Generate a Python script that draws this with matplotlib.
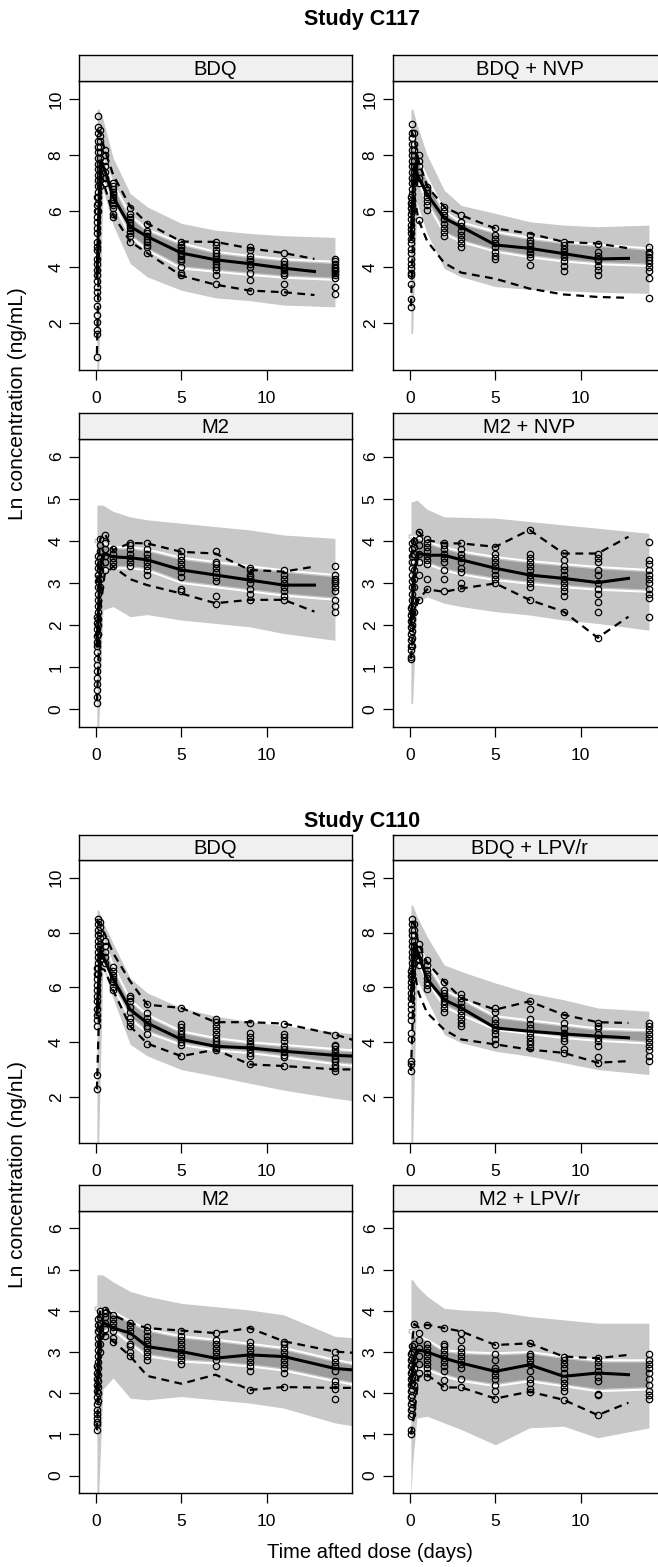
import numpy as np
import matplotlib
matplotlib.use('Agg')
import matplotlib.pyplot as plt
import matplotlib.patheffects as pe

plt.rcParams['font.family'] = ['Liberation Sans', 'DejaVu Sans']

# ---- shared time grids ----
band_t = [0.05, 0.15, 0.4, 1, 2, 3, 5, 7, 9, 11, 14]
band_t_long = [0.05, 0.15, 0.4, 1, 2, 3, 5, 7, 9, 11, 14, 15.2]
mid_t = [0.05, 0.25, 0.5, 1, 2, 3, 5, 7, 9, 11, 12.8]
mid_t_long = [0.05, 0.25, 0.5, 1, 2, 3, 5, 7, 9, 11, 14, 15.5]
obs_t = [0.05, 0.12, 0.25, 0.5, 1, 2, 3, 5, 7, 9, 11, 14]

# ---- Study C117, BDQ ----
c117_bdq_hi = [9.6, 9.67, 9.3, 7.9, 6.63, 6.15, 5.56, 5.32, 5.2, 5.12, 5.06]
c117_bdq_lo = [0.3, 0.3, 6.8, 5.5, 4.13, 3.65, 3.17, 2.9, 2.8, 2.64, 2.58]
c117_bdq_whi = [8.3, 8.3, 7.9, 7.0, 5.85, 5.35, 4.85, 4.55, 4.4, 4.28, 4.19]
c117_bdq_wlo = [7.0, 7.0, 7.1, 6.3, 5.1, 4.6, 3.95, 3.83, 3.72, 3.62, 3.54]
c117_bdq_med = [3.6, 7.8, 7.5, 6.5, 5.45, 5.09, 4.5, 4.26, 4.12, 3.96, 3.84]
c117_bdq_p95 = [8.9, 8.8, 8.2, 7.3, 6.16, 5.56, 4.91, 4.9, 4.67, 4.5, 4.29]
c117_bdq_p5 = [0.9, 6.9, 6.9, 5.86, 4.91, 4.5, 3.69, 3.37, 3.16, 3.1, 3.0]
c117_bdq_obs = [
    [0.8, 1.6, 1.75, 2.05, 2.3, 2.6, 2.9, 3.1, 3.3, 3.5, 3.7, 3.9, 4.1, 4.3, 4.6, 4.7,
     4.9, 5.2, 5.4, 5.6, 5.8, 6.0, 6.2, 6.5],
    [6.0, 6.3, 6.5, 6.7, 6.9, 7.1, 7.3, 7.5, 7.7, 7.9, 8.1, 8.3, 8.5, 8.8, 9.0, 9.4],
    [6.9, 7.1, 7.3, 7.5, 7.7, 7.9, 8.1, 8.3, 8.5, 8.7, 8.9],
    [7.0, 7.2, 7.4, 7.6, 7.8, 8.0, 8.2],
    [5.8, 5.9, 6.1, 6.2, 6.3, 6.4, 6.5, 6.6, 6.7, 6.8, 6.9, 7.0],
    [4.9, 5.1, 5.2, 5.3, 5.4, 5.5, 5.6, 5.7, 5.8, 5.9, 6.1],
    [4.5, 4.7, 4.8, 4.9, 5.0, 5.1, 5.2, 5.3, 5.55],
    [3.7, 3.8, 4.0, 4.2, 4.3, 4.4, 4.45, 4.5, 4.6, 4.7, 4.8, 4.9],
    [3.4, 3.7, 3.9, 4.0, 4.1, 4.2, 4.3, 4.4, 4.5, 4.6, 4.8, 4.9],
    [3.15, 3.55, 3.8, 4.0, 4.1, 4.2, 4.3, 4.4, 4.6, 4.7],
    [3.1, 3.4, 3.7, 3.8, 3.9, 3.95, 4.0, 4.1, 4.2, 4.5],
    [3.05, 3.3, 3.6, 3.7, 3.8, 3.85, 3.9, 3.95, 4.0, 4.1, 4.2, 4.3],
]

# ---- Study C117, BDQ + NVP ----
c117_nvp_hi = [9.6, 9.67, 9.1, 8.0, 6.75, 6.2, 5.92, 5.62, 5.5, 5.44, 5.5]
c117_nvp_lo = [1.63, 1.63, 6.3, 5.2, 3.95, 3.65, 3.3, 3.2, 3.15, 3.1, 3.06]
c117_nvp_whi = [8.6, 8.6, 8.0, 7.2, 6.0, 5.6, 5.26, 5.05, 4.9, 4.8, 4.67]
c117_nvp_wlo = [7.2, 7.2, 7.2, 6.3, 5.2, 4.9, 4.55, 4.35, 4.2, 4.1, 4.04]
c117_nvp_med = [5.0, 7.6, 7.2, 6.6, 5.75, 5.44, 4.79, 4.67, 4.48, 4.29, 4.31]
c117_nvp_p95 = [8.9, 8.6, 7.8, 6.9, 6.15, 5.85, 5.38, 5.2, 4.9, 4.84, 4.67]
c117_nvp_p5 = [2.6, 6.5, 5.68, 4.93, 4.15, 3.8, 3.58, 3.23, 3.02, 2.93, 2.9]
c117_nvp_obs = [
    [2.57, 2.87, 3.4, 3.7, 3.8, 3.95, 4.1, 4.3, 4.5, 4.65, 4.85, 5.0, 5.2, 5.35, 5.5,
     5.7, 5.9, 6.1, 6.3, 6.5],
    [6.0, 6.2, 6.4, 6.6, 6.8, 7.0, 7.2, 7.4, 7.6, 7.8, 8.0, 8.2, 8.4, 8.6, 8.8, 9.1],
    [7.0, 7.2, 7.4, 7.6, 7.8, 8.0, 8.2, 8.4, 8.8],
    [5.68, 7.0, 7.2, 7.4, 7.6, 7.8, 8.0],
    [6.05, 6.2, 6.35, 6.5, 6.65, 6.75, 6.87],
    [5.1, 5.25, 5.4, 5.55, 5.7, 5.85, 6.0, 6.15],
    [4.7, 4.85, 5.0, 5.15, 5.3, 5.45, 5.6, 5.85],
    [4.3, 4.4, 4.55, 4.7, 4.85, 5.0, 5.15, 5.4],
    [4.07, 4.35, 4.45, 4.55, 4.65, 4.75, 4.85, 4.95, 5.15],
    [3.85, 4.05, 4.2, 4.35, 4.45, 4.55, 4.65, 4.8, 4.9],
    [3.7, 3.9, 4.05, 4.2, 4.3, 4.4, 4.55, 4.84],
    [2.9, 3.6, 3.85, 4.0, 4.15, 4.25, 4.35, 4.45, 4.55, 4.7],
]

# ---- Study C117, M2 ----
c117_m2_hi = [4.85, 4.85, 4.85, 4.7, 4.57, 4.5, 4.42, 4.34, 4.26, 4.14, 4.06]
c117_m2_lo = [-0.5, -0.5, 2.36, 2.44, 2.2, 2.25, 2.12, 2.04, 1.96, 1.8, 1.64]
c117_m2_whi = [4.0, 4.0, 3.95, 3.85, 3.85, 3.8, 3.6, 3.5, 3.4, 3.3, 3.19]
c117_m2_wlo = [3.2, 3.2, 3.3, 3.35, 3.35, 3.3, 3.0, 2.9, 2.8, 2.7, 2.6]
c117_m2_med = [1.5, 3.4, 3.7, 3.62, 3.6, 3.55, 3.31, 3.19, 3.07, 2.95, 2.95]
c117_m2_p95 = [3.0, 4.05, 4.18, 3.78, 3.95, 3.94, 3.74, 3.7, 3.31, 3.27, 3.39]
c117_m2_p5 = [0.2, 2.4, 3.2, 3.39, 3.09, 2.95, 2.75, 2.52, 2.6, 2.6, 2.32]
c117_m2_obs = [
    [0.15, 0.3, 0.45, 0.6, 0.75, 0.9, 1.05, 1.2, 1.35, 1.5, 1.6, 1.75, 1.9, 2.05, 2.2],
    [1.8, 2.0, 2.15, 2.3, 2.45, 2.6, 2.75, 2.9, 3.05, 3.2, 3.35, 3.5, 3.65],
    [2.9, 3.1, 3.3, 3.45, 3.6, 3.75, 3.9, 4.05],
    [3.3, 3.5, 3.65, 3.8, 3.95, 4.15],
    [3.4, 3.5, 3.6, 3.7, 3.8],
    [3.4, 3.5, 3.6, 3.7, 3.8, 3.9, 3.95],
    [3.2, 3.3, 3.4, 3.5, 3.6, 3.7, 3.8, 3.95],
    [2.8, 2.85, 3.15, 3.25, 3.35, 3.45, 3.55, 3.65, 3.75],
    [2.5, 2.7, 3.05, 3.15, 3.25, 3.35, 3.45, 3.5, 3.75],
    [2.6, 2.75, 2.85, 3.0, 3.1, 3.15, 3.2, 3.3, 3.35],
    [2.6, 2.7, 2.8, 2.9, 3.0, 3.1, 3.2, 3.3],
    [2.3, 2.45, 2.6, 2.8, 2.9, 3.0, 3.05, 3.1, 3.2, 3.4],
]

# ---- Study C117, M2 + NVP ----
c117_m2nvp_hi = [4.93, 4.93, 4.97, 4.75, 4.57, 4.56, 4.54, 4.46, 4.38, 4.3, 4.18]
c117_m2nvp_lo = [0.14, 0.14, 2.55, 2.67, 2.52, 2.44, 2.32, 2.24, 2.12, 2.04, 1.88]
c117_m2nvp_whi = [4.1, 4.1, 4.1, 3.98, 3.85, 3.75, 3.62, 3.52, 3.45, 3.38, 3.31]
c117_m2nvp_wlo = [3.5, 3.5, 3.5, 3.45, 3.3, 3.2, 3.07, 2.98, 2.9, 2.84, 2.79]
c117_m2nvp_med = [2.0, 3.3, 3.7, 3.66, 3.66, 3.55, 3.35, 3.19, 3.11, 3.01, 3.11]
c117_m2nvp_p95 = [3.6, 4.1, 4.22, 4.02, 3.94, 3.94, 3.86, 4.26, 3.7, 3.7, 4.1]
c117_m2nvp_p5 = [1.2, 2.3, 2.6, 2.85, 2.79, 2.87, 2.99, 2.6, 2.32, 1.7, 2.2]
c117_m2nvp_obs = [
    [1.2, 1.25, 1.4, 1.5, 1.65, 1.8, 1.95, 2.1, 2.25, 2.4],
    [1.5, 1.7, 1.85, 2.0, 2.15, 2.3, 2.45, 2.6, 2.75, 2.9, 3.05, 3.2, 3.35, 3.5, 3.65,
     3.8, 3.95],
    [2.3, 2.6, 2.9, 3.1, 3.3, 3.5, 3.7, 3.85, 4.0],
    [2.6, 3.2, 3.5, 3.7, 3.9, 4.05, 4.22],
    [2.85, 3.1, 3.45, 3.55, 3.65, 3.75, 3.85, 3.95, 4.05],
    [2.8, 3.1, 3.3, 3.5, 3.6, 3.7, 3.8, 3.9, 3.95],
    [2.87, 3.0, 3.25, 3.35, 3.5, 3.6, 3.7, 3.8, 3.95],
    [3.0, 3.1, 3.2, 3.3, 3.4, 3.5, 3.6, 3.7, 3.85],
    [2.6, 2.9, 3.0, 3.1, 3.2, 3.3, 3.4, 3.5, 3.6, 3.7, 4.25],
    [2.32, 2.7, 2.8, 2.9, 3.0, 3.1, 3.2, 3.3, 3.4, 3.55, 3.72],
    [1.7, 2.32, 2.55, 2.75, 2.85, 3.0, 3.2, 3.3, 3.5, 3.6, 3.7],
    [2.2, 2.65, 2.75, 2.85, 3.0, 3.1, 3.2, 3.3, 3.45, 3.55, 3.97],
]

# ---- Study C110, BDQ ----
c110_bdq_hi = [8.82, 8.82, 8.4, 7.6, 6.34, 5.8, 5.25, 4.95, 4.75, 4.6, 4.38, 4.3]
c110_bdq_lo = [0.3, 0.3, 6.76, 5.6, 3.92, 3.5, 3.0, 2.76, 2.5, 2.25, 1.95, 1.85]
c110_bdq_whi = [8.0, 8.0, 7.8, 6.8, 5.55, 5.0, 4.4, 4.15, 4.0, 3.9, 3.75, 3.7]
c110_bdq_wlo = [7.0, 7.0, 7.0, 6.0, 4.85, 4.35, 3.9, 3.7, 3.6, 3.45, 3.2, 3.13]
c110_bdq_med = [5.0, 7.4, 7.0, 6.3, 5.19, 4.7, 4.1, 3.85, 3.79, 3.67, 3.52, 3.48]
c110_bdq_p95 = [8.5, 8.2, 7.97, 7.25, 6.22, 5.37, 5.25, 4.73, 4.73, 4.68, 4.28, 4.0]
c110_bdq_p5 = [2.28, 6.7, 6.64, 5.9, 4.58, 3.95, 3.49, 3.73, 3.19, 3.13, 3.01, 3.0]
c110_bdq_obs = [
    [2.28, 2.8, 4.6, 4.8, 5.0, 5.2, 5.5, 5.7, 5.9, 6.1, 6.3, 6.5, 6.7],
    [6.5, 6.7, 6.9, 7.1, 7.3, 7.5, 7.7, 7.9, 8.1, 8.3, 8.5],
    [7.0, 7.2, 7.4, 7.6, 7.8, 8.0, 8.2, 8.4],
    [6.9, 7.1, 7.3, 7.5, 7.7],
    [5.9, 6.0, 6.2, 6.3, 6.45, 6.6, 6.75],
    [4.6, 4.75, 4.9, 5.1, 5.3, 5.5, 5.6, 5.7],
    [3.95, 4.3, 4.5, 4.6, 4.75, 4.9, 5.05, 5.4],
    [3.5, 3.9, 4.0, 4.1, 4.2, 4.3, 4.4, 4.55, 4.65, 5.25],
    [3.7, 3.8, 3.95, 4.05, 4.15, 4.3, 4.45, 4.6, 4.75, 4.85],
    [3.2, 3.5, 3.6, 3.75, 3.85, 3.95, 4.05, 4.2, 4.35, 4.7],
    [3.13, 3.45, 3.55, 3.65, 3.75, 3.85, 4.05, 4.2, 4.3, 4.65],
    [2.95, 3.05, 3.15, 3.3, 3.4, 3.5, 3.6, 3.75, 3.85, 3.9, 4.25],
]

# ---- Study C110, BDQ + LPV/r ----
c110_lpv_hi = [9.0, 9.0, 8.6, 7.85, 6.82, 6.58, 6.16, 5.79, 5.55, 5.25, 5.13]
c110_lpv_lo = [0.3, 0.3, 6.3, 5.55, 4.28, 3.98, 3.67, 3.49, 3.25, 3.0, 2.82]
c110_lpv_whi = [8.0, 8.0, 7.7, 6.9, 5.9, 5.6, 4.95, 4.8, 4.65, 4.5, 4.44]
c110_lpv_wlo = [7.0, 7.0, 7.0, 6.2, 5.3, 5.0, 4.45, 4.3, 4.15, 4.05, 3.95]
c110_lpv_med = [5.5, 7.6, 7.2, 6.3, 5.55, 5.25, 4.52, 4.4, 4.3, 4.22, 4.16]
c110_lpv_p95 = [8.4, 8.3, 7.6, 6.9, 6.22, 5.61, 5.19, 5.49, 5.0, 4.73, 4.7]
c110_lpv_p5 = [2.95, 6.6, 5.8, 5.07, 4.46, 4.1, 3.92, 3.73, 3.61, 3.25, 3.31]
c110_lpv_obs = [
    [2.95, 3.2, 3.3, 4.1, 4.35, 4.8, 5.0, 5.2, 5.4, 5.6, 5.8, 6.0, 6.2, 6.4, 6.6],
    [6.3, 6.5, 6.7, 6.9, 7.1, 7.3, 7.5, 7.7, 7.9, 8.1, 8.3, 8.5],
    [6.9, 7.1, 7.3, 7.5, 7.7, 7.9, 8.1, 8.3],
    [6.8, 7.0, 7.2, 7.4, 7.6],
    [5.95, 6.1, 6.2, 6.35, 6.5, 6.65, 6.8, 7.0],
    [5.1, 5.25, 5.4, 5.5, 5.6, 5.7, 5.8, 5.9, 6.2],
    [4.6, 4.7, 4.85, 5.0, 5.15, 5.3, 5.45, 5.6, 5.75],
    [3.92, 4.1, 4.3, 4.45, 4.55, 4.7, 4.85, 5.1, 5.25],
    [3.78, 3.95, 4.05, 4.2, 4.35, 4.5, 4.65, 4.85, 5.2, 5.5],
    [3.6, 3.75, 4.05, 4.15, 4.25, 4.35, 4.5, 4.7, 5.0],
    [3.25, 3.45, 3.85, 4.05, 4.15, 4.3, 4.5, 4.6, 4.7],
    [3.3, 3.5, 3.7, 3.85, 4.0, 4.15, 4.3, 4.45, 4.6, 4.7],
]

# ---- Study C110, M2 ----
c110_m2_hi = [4.87, 4.87, 4.87, 4.7, 4.47, 4.35, 4.18, 4.1, 4.02, 3.9, 3.38, 3.34]
c110_m2_lo = [-0.5, -0.5, 2.1, 2.37, 1.88, 1.84, 1.92, 1.84, 1.76, 1.64, 1.28, 1.2]
c110_m2_whi = [4.05, 4.05, 4.0, 3.98, 3.75, 3.55, 3.38, 3.3, 3.2, 3.1, 2.81, 2.72]
c110_m2_wlo = [3.45, 3.45, 3.5, 3.54, 3.2, 2.9, 2.77, 2.72, 2.65, 2.55, 2.29, 2.2]
c110_m2_med = [2.0, 3.6, 3.7, 3.58, 3.46, 3.13, 3.01, 2.85, 2.93, 2.89, 2.6, 2.55]
c110_m2_p95 = [3.5, 4.0, 4.06, 3.9, 3.7, 3.58, 3.52, 3.46, 3.58, 3.26, 3.01, 2.97]
c110_m2_p5 = [1.1, 3.2, 3.46, 3.26, 2.9, 2.42, 2.23, 2.45, 2.08, 2.15, 2.13, 2.13]
c110_m2_obs = [
    [1.1, 1.25, 1.3, 1.4, 1.5, 1.6, 1.75, 1.9, 2.05, 2.2, 2.35, 2.5, 2.65],
    [1.8, 2.0, 2.15, 2.3, 2.45, 2.6, 2.75, 2.9, 3.05, 3.2, 3.35, 3.5, 3.65, 3.8],
    [3.0, 3.2, 3.4, 3.55, 3.7, 3.85, 4.0],
    [3.4, 3.55, 3.7, 3.85, 3.95, 4.02],
    [3.25, 3.35, 3.5, 3.6, 3.7, 3.8, 3.9],
    [2.9, 3.0, 3.15, 3.2, 3.4, 3.5, 3.6, 3.7],
    [2.8, 2.9, 3.0, 3.1, 3.2, 3.3, 3.4, 3.5, 3.6],
    [2.7, 2.8, 2.9, 3.0, 3.1, 3.2, 3.3, 3.4, 3.5],
    [2.65, 2.8, 2.9, 3.0, 3.1, 3.2, 3.3, 3.45],
    [2.08, 2.55, 2.65, 2.75, 2.85, 2.95, 3.05, 3.15, 3.25, 3.55],
    [2.15, 2.5, 2.6, 2.7, 2.8, 2.9, 3.0, 3.1, 3.2, 3.25],
    [1.87, 2.1, 2.2, 2.3, 2.55, 2.65, 2.75, 2.85, 3.0],
]

# ---- Study C110, M2 + LPV/r ----
c110_m2lpv_hi = [4.75, 4.75, 4.6, 4.35, 4.06, 4.02, 3.98, 3.86, 3.78, 3.7, 3.7]
c110_m2lpv_lo = [-0.5, 0.3, 1.4, 1.44, 1.28, 1.12, 0.75, 1.16, 1.2, 0.92, 1.16]
c110_m2lpv_whi = [3.5, 3.5, 3.4, 3.3, 3.05, 3.0, 2.97, 3.0, 2.89, 2.8, 2.8]
c110_m2lpv_wlo = [2.6, 2.6, 2.6, 2.57, 2.41, 2.3, 2.17, 2.29, 2.17, 2.05, 2.09]
c110_m2lpv_med = [2.2, 2.9, 3.05, 3.0, 2.85, 2.73, 2.53, 2.69, 2.41, 2.49, 2.45]
c110_m2lpv_p95 = [3.0, 3.68, 3.6, 3.66, 3.58, 3.5, 3.17, 3.21, 2.89, 2.85, 2.93]
c110_m2lpv_p5 = [1.0, 1.5, 2.4, 2.45, 2.14, 2.14, 1.87, 2.04, 1.84, 1.47, 1.77]
c110_m2lpv_obs = [
    [1.0, 1.1, 1.45, 1.6, 1.75, 1.9, 2.05, 2.2, 2.35, 2.5, 2.65, 2.8, 2.95],
    [1.5, 1.65, 1.8, 1.95, 2.1, 2.25, 2.4, 2.55, 2.7, 2.85, 3.0, 3.15],
    [2.2, 2.4, 2.6, 2.8, 3.0, 3.2, 3.67],
    [2.5, 2.7, 2.9, 3.1, 3.3, 3.45],
    [2.4, 2.5, 2.6, 2.7, 2.8, 2.9, 3.0, 3.1, 3.2, 3.65],
    [2.14, 2.33, 2.55, 2.65, 2.75, 2.85, 2.95, 3.05, 3.15, 3.2, 3.58],
    [2.14, 2.35, 2.6, 2.7, 2.8, 2.9, 3.0, 3.1, 3.3, 3.46],
    [1.87, 2.05, 2.2, 2.35, 2.45, 2.55, 2.6, 2.8, 2.95, 3.17],
    [2.04, 2.1, 2.25, 2.35, 2.55, 2.7, 2.8, 2.9, 2.95, 3.21],
    [1.84, 2.05, 2.15, 2.25, 2.35, 2.5, 2.6, 2.7, 2.8, 2.89],
    [1.47, 1.95, 1.97, 2.3, 2.4, 2.55, 2.65, 2.75, 2.85],
    [1.85, 1.95, 2.05, 2.2, 2.35, 2.5, 2.6, 2.7, 2.8, 2.95],
]

LIGHT = '#c8c8c8'
DARK = '#9c9c9c'
STRIP = '#f0f0f0'

W, H = 658, 1567
fig = plt.figure(figsize=(W / 100, H / 100), dpi=100)


def px_axes(x0, y0, x1, y1):
    # pixel box (top-left origin) -> figure axes
    return fig.add_axes([x0 / W, 1 - y1 / H, (x1 - x0) / W, (y1 - y0) / H])


def panel(col, row, title, bt, hi, lo, whi, wlo, mt, med, p95, p5, obs, bdq):
    cols = [(79, 352), (393, 666)]
    rows = [(54.5, 81, 370), (412.5, 439, 727), (835, 860, 1143), (1185, 1211, 1493)]
    x0, x1 = cols[col]
    s0, p0, p1 = rows[row]
    ax = px_axes(x0, p0, x1, p1)
    ax.fill_between(bt, lo, hi, color=LIGHT, lw=0, zorder=1)
    ax.fill_between(bt, wlo, whi, color=DARK, lw=0, zorder=2)
    for w in (whi, wlo):
        ax.plot(bt, w, color='white', lw=1.4, zorder=3,
                path_effects=[pe.Stroke(linewidth=3.4, foreground=LIGHT), pe.Normal()])
    for t, vals in zip(obs_t, obs):
        ax.plot([t] * len(vals), vals, 'o', ms=4.6, mfc='none', mec='black', mew=0.9, zorder=4)
    ax.plot(mt, med, color='black', lw=2.2, zorder=5)
    ax.plot(mt, p95, color='black', lw=1.6, ls=(0, (3.5, 2.5)), zorder=5)
    ax.plot(mt, p5, color='black', lw=1.6, ls=(0, (3.5, 2.5)), zorder=5)
    ax.set_xlim(-1, 15)
    ax.set_xticks([0, 5, 10])
    if bdq:
        ax.set_ylim(0.32, 10.65)
        ax.set_yticks([2, 4, 6, 8, 10])
    else:
        ax.set_ylim(-0.42, 6.42)
        ax.set_yticks([0, 1, 2, 3, 4, 5, 6])
    ax.tick_params(direction='out', length=7, width=0.9, labelsize=12.5, pad=8)
    ax.tick_params(axis='y', pad=4)
    for lab in ax.get_yticklabels():
        lab.set_rotation(90)
        lab.set_va('center')
    for s in ax.spines.values():
        s.set_linewidth(1.0)
    sax = px_axes(x0, s0, x1, p0)
    sax.set_facecolor(STRIP)
    sax.set_xticks([])
    sax.set_yticks([])
    for s in sax.spines.values():
        s.set_linewidth(1.0)
    sax.text(0.5, 0.45, title, ha='center', va='center', fontsize=14.5, transform=sax.transAxes)
    return ax


panel(0, 0, 'BDQ', band_t, c117_bdq_hi, c117_bdq_lo, c117_bdq_whi, c117_bdq_wlo,
      mid_t, c117_bdq_med, c117_bdq_p95, c117_bdq_p5, c117_bdq_obs, True)
panel(1, 0, 'BDQ + NVP', band_t, c117_nvp_hi, c117_nvp_lo, c117_nvp_whi, c117_nvp_wlo,
      mid_t, c117_nvp_med, c117_nvp_p95, c117_nvp_p5, c117_nvp_obs, True)
panel(0, 1, 'M2', band_t, c117_m2_hi, c117_m2_lo, c117_m2_whi, c117_m2_wlo,
      mid_t, c117_m2_med, c117_m2_p95, c117_m2_p5, c117_m2_obs, False)
panel(1, 1, 'M2 + NVP', band_t, c117_m2nvp_hi, c117_m2nvp_lo, c117_m2nvp_whi, c117_m2nvp_wlo,
      mid_t, c117_m2nvp_med, c117_m2nvp_p95, c117_m2nvp_p5, c117_m2nvp_obs, False)
panel(0, 2, 'BDQ', band_t_long, c110_bdq_hi, c110_bdq_lo, c110_bdq_whi, c110_bdq_wlo,
      mid_t_long, c110_bdq_med, c110_bdq_p95, c110_bdq_p5, c110_bdq_obs, True)
panel(1, 2, 'BDQ + LPV/r', band_t, c110_lpv_hi, c110_lpv_lo, c110_lpv_whi, c110_lpv_wlo,
      mid_t, c110_lpv_med, c110_lpv_p95, c110_lpv_p5, c110_lpv_obs, True)
panel(0, 3, 'M2', band_t_long, c110_m2_hi, c110_m2_lo, c110_m2_whi, c110_m2_wlo,
      mid_t_long, c110_m2_med, c110_m2_p95, c110_m2_p5, c110_m2_obs, False)
panel(1, 3, 'M2 + LPV/r', band_t, c110_m2lpv_hi, c110_m2lpv_lo, c110_m2lpv_whi, c110_m2lpv_wlo,
      mid_t, c110_m2lpv_med, c110_m2lpv_p95, c110_m2lpv_p5, c110_m2lpv_obs, False)

fig.text(362 / W, 1 - 19 / H, 'Study C117', ha='center', va='center', fontsize=15.5, fontweight='bold')
fig.text(362 / W, 1 - 821 / H, 'Study C110', ha='center', va='center', fontsize=15.5, fontweight='bold')
fig.text(18 / W, 1 - 404 / H, 'Ln concentration (ng/mL)', rotation=90, ha='center', va='center', fontsize=15)
fig.text(18 / W, 1 - 1175 / H, 'Ln concentration (ng/nL)', rotation=90, ha='center', va='center', fontsize=15)
fig.text(370 / W, 1 - 1553 / H, 'Time afted dose (days)', ha='center', va='center', fontsize=14.5)

fig.savefig('out.png', dpi=100)
